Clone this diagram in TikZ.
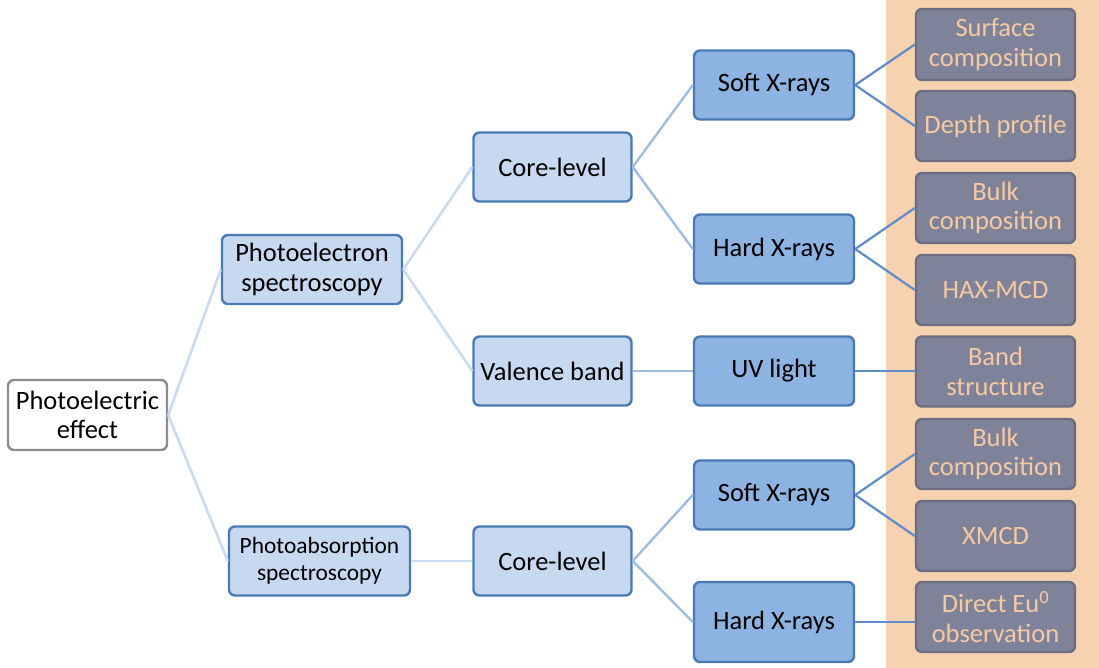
\documentclass[tikz,border=0pt]{standalone}
\usepackage{fontspec}
\setmainfont{Carlito}
\definecolor{lvlA}{HTML}{C6D9F1}
\definecolor{lvlB}{HTML}{8DB3E2}
\definecolor{bord}{HTML}{4A7AB4}
\definecolor{gbox}{HTML}{7F8399}
\definecolor{gbord}{HTML}{6B6D80}
\definecolor{peach}{HTML}{F7D2B1}
\definecolor{ptext}{HTML}{F5CAA2}
\definecolor{eA}{HTML}{C9DBF0}
\definecolor{eB}{HTML}{9DBDE3}
\definecolor{eC}{HTML}{5F8CC8}
\tikzset{
  base/.style={rounded corners=6pt, line width=2.4pt, align=center, inner sep=0pt,
    minimum width=158pt, minimum height=69pt, font=\fontsize{26.5}{29.5}\selectfont},
  rootbox/.style={base, draw=gray!90, fill=white, text=black},
  l1box/.style={base, draw=bord, fill=lvlA, text=black},
  l3box/.style={base, draw=bord, fill=lvlB, text=black},
  resbox/.style={base, draw=gbord, fill=gbox, text=ptext},
  e1/.style={draw=eA, line width=2.6pt},
  e2/.style={draw=eA, line width=2.6pt},
  e3/.style={draw=eB, line width=2.4pt},
  e4/.style={draw=eC, line width=2.2pt},
}
\begin{document}
\begin{tikzpicture}[x=1pt,y=-1pt]
\useasboundingbox (0,0) rectangle (1099,668);
\fill[peach] (886,0) rectangle (1099,668);
\node[rootbox, minimum width=159pt, minimum height=70pt] (pe) at (87.5,415) {Photoelectric\\effect};
\node[l1box, minimum width=180pt] (pes) at (312,269.5) {Photoelectron\\spectroscopy};
\node[l1box, minimum width=181pt, font=\fontsize{23.4}{26.5}\selectfont] (pas) at (319.5,561) {Photoabsorption\\spectroscopy};
\node[l1box] (cl1) at (552.5,167) {Core-level};
\node[l1box] (vb) at (552.5,371) {Valence band};
\node[l1box] (cl2) at (552.5,561) {Core-level};
\node[l3box, minimum width=160pt] (sx1) at (774,85) {Soft X-rays};
\node[l3box, minimum width=160pt] (hx1) at (774,249) {Hard X-rays};
\node[l3box, minimum width=160pt] (uv) at (774,371) {UV light};
\node[l3box, minimum width=160pt] (sx2) at (774,495) {Soft X-rays};
\node[l3box, minimum width=160pt, minimum height=80pt] (hx2) at (774,622) {Hard X-rays};
\node[resbox, minimum width=159pt, minimum height=71pt] (r1) at (995.5,44.5) {Surface\\composition};
\node[resbox, minimum width=159pt, minimum height=70pt] (r2) at (995.5,126) {Depth profile};
\node[resbox, minimum width=159pt, minimum height=70pt] (r3) at (995.5,208) {Bulk\\composition};
\node[resbox, minimum width=159pt, minimum height=70pt] (r4) at (995.5,290) {HAX-MCD};
\node[resbox, minimum width=159pt, minimum height=70pt] (r5) at (995.5,371.5) {Band\\structure};
\node[resbox, minimum width=159pt, minimum height=70pt] (r6) at (995.5,454) {Bulk\\composition};
\node[resbox, minimum width=159pt, minimum height=70pt] (r7) at (995.5,536) {XMCD};
\node[resbox, minimum width=159pt, minimum height=70pt] (r8) at (995.5,617) {Direct Eu\textsuperscript{0}\\observation};
\draw[e1] (pe.east) -- (pes.west);
\draw[e1] (pe.east) -- (pas.west);
\draw[e2] (pes.east) -- (cl1.west);
\draw[e2] (pes.east) -- (vb.west);
\draw[e2] (pas.east) -- (cl2.west);
\draw[e3] (cl1.east) -- (sx1.west);
\draw[e3] (cl1.east) -- (hx1.west);
\draw[e3] (vb.east) -- (uv.west);
\draw[e3] (cl2.east) -- (sx2.west);
\draw[e3] (cl2.east) -- (hx2.west);
\draw[e4] (sx1.east) -- (r1.west);
\draw[e4] (sx1.east) -- (r2.west);
\draw[e4] (hx1.east) -- (r3.west);
\draw[e4] (hx1.east) -- (r4.west);
\draw[e4] (uv.east) -- (uv.east -| r5.west);
\draw[e4] (sx2.east) -- (r6.west);
\draw[e4] (sx2.east) -- (r7.west);
\draw[e4] (hx2.east) -- (hx2.east -| r8.west);
\end{tikzpicture}
\end{document}
